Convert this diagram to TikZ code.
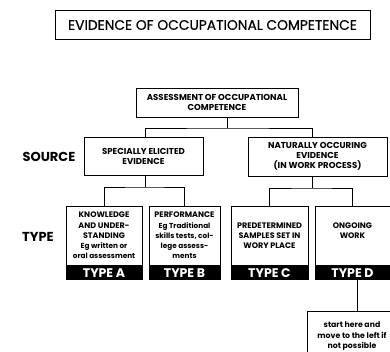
\documentclass[tikz,border=0pt]{standalone}
\usepackage{fontspec}
\setmainfont{Poppins}
\newfontfamily\titlefont{Poppins}[FakeBold=0.5]
\usetikzlibrary{positioning}

\newcommand{\lc}[1]{{\fontsize{7.3}{10.2}\selectfont #1}}

\tikzset{
  box/.style={draw, line width=0.7pt, align=center, inner sep=1pt,
    font=\bfseries\fontsize{8.6}{10}\selectfont},
  typebox/.style={box, minimum height=59pt, text depth=0pt,
    font=\bfseries\fontsize{8}{10.2}\selectfont},
  typebar/.style={draw, fill=black, text=white, line width=0.7pt, inner sep=0pt,
    minimum height=14pt, font=\bfseries\fontsize{12.5}{13}\selectfont},
  side/.style={font=\bfseries\fontsize{13}{14}\selectfont},
  link/.style={line width=0.7pt}
}

\begin{document}
\begin{tikzpicture}[x=1pt, y=-1pt]
  \useasboundingbox (0,0) rectangle (390,352);
  \clip (0,0) rectangle (390,352);

  \node [draw, line width=1pt, minimum width=315pt, minimum height=29pt,
    font=\titlefont\fontsize{13.8}{15}\selectfont] (title) at (212.5,25)
    {EVIDENCE OF OCCUPATIONAL COMPETENCE};

  \node [box, minimum width=162pt, minimum height=29pt] (assess) at (217,102.5)
    {ASSESSMENT OF OCCUPATIONAL\\COMPETENCE};
  \node [box, minimum width=119pt, minimum height=38pt] (spec) at (143.5,156)
    {SPECIALLY ELICITED\\EVIDENCE};
  \node [box, minimum width=139pt, minimum height=39pt] (nat) at (317.5,156.5)
    {NATURALLY OCCURING\\EVIDENCE\\(IN WORK PROCESS)};

  \node [side] (source) at (49,157) {SOURCE};
  \node [side] (type) at (38,237) {TYPE};

  % type boxes
  \node [typebox, minimum width=76pt] (tA) at (104,235.5)
    {KNOWLEDGE\\AND UNDER-\\STANDING\\\lc{Eg written or}\\\lc{oral assessment}};
  \node [typebox, minimum width=71pt] (tB) at (184.5,235.5)
    {PERFORMANCE\\\lc{Eg Traditional}\\\lc{skills tests, col-}\\\lc{lege assess-}\\\lc{ments}};
  \node [typebox, minimum width=77pt] (tC) at (269.5,235.5)
    {PREDETERMINED\\SAMPLES SET IN\\WORY PLACE};
  \node [typebox, minimum width=75pt, text depth=10pt] (tD) at (352.5,235.5)
    {ONGOING\\WORK};

  \node [typebar, minimum width=76pt, below=0pt of tA] (barA) {TYPE A};
  \node [typebar, minimum width=71pt, below=0pt of tB] (barB) {TYPE B};
  \node [typebar, minimum width=77pt, below=0pt of tC] (barC) {TYPE C};
  \node [typebar, minimum width=75pt, below=0pt of tD] (barD) {TYPE D};

  \node [box, minimum width=90pt, minimum height=50pt, anchor=north,
    font=\bfseries\fontsize{7.8}{10.5}\selectfont] (note) at (352,311)
    {start here and\\move to the left if\\not possible};

  % tree
  \coordinate (jt) at (227,128);
  \coordinate (js) at (145,187);
  \coordinate (jn) at (312,188);
  \draw [link] (spec.north -| js) |- (jt) -| (nat.north -| jn);
  \draw [link] (jt) -- (jt |- assess.south);
  \draw [link] (tA.north) |- (js) -| (tB.north);
  \draw [link] (js) -- (js |- spec.south);
  \draw [link] (tC.north) |- (jn) -| (tD.north);
  \draw [link] (jn) -- (jn |- nat.south);
  \draw [link] (note.north -| 357,0) -- (barD.south -| 357,0);
\end{tikzpicture}
\end{document}
